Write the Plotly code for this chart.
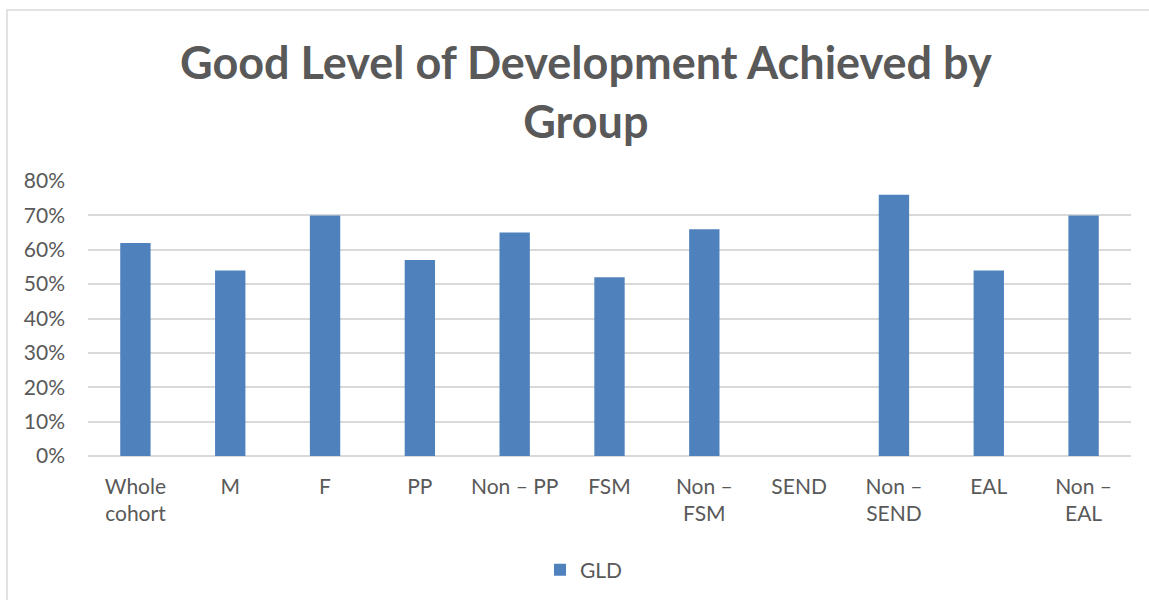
import plotly.graph_objects as go

categories = ["Whole<br>cohort", "M", "F", "PP", "Non – PP", "FSM", "Non –<br>FSM",
              "SEND", "Non –<br>SEND", "EAL", "Non –<br>EAL"]
gld_values = [0.62, 0.54, 0.70, 0.57, 0.65, 0.52, 0.66, 0.0, 0.76, 0.54, 0.70]
y_ticks = [0, 0.1, 0.2, 0.3, 0.4, 0.5, 0.6, 0.7, 0.8]
title_text = "<b>Good Level of Development Achieved by<br>Group</b>"

GREY = "#595959"
FONT = "Lato"

# plot area in pixels: left 88, right 1131, top 181 (80%), bottom 456 (0%)
PL, PR, PT, PB = 88, 1131, 181, 456
PW, PH = PR - PL, PB - PT

fig = go.Figure()
fig.add_trace(go.Bar(
    x=categories, y=gld_values, name="GLD",
    marker=dict(color="#4f81bd", line=dict(width=0)),
))

fig.update_layout(
    width=1149, height=600,
    paper_bgcolor="white", plot_bgcolor="white",
    margin=dict(l=PL, r=1149 - PR, t=PT, b=600 - PB, autoexpand=False),
    bargap=0.68,
    font=dict(family=FONT, color=GREY, size=21),
    showlegend=True,
    legend=dict(orientation="h", x=584 / 1149, xref="container", xanchor="center",
                y=1 - 570 / 600, yref="container", yanchor="middle",
                font=dict(family=FONT, size=21, color=GREY)),
    xaxis=dict(showgrid=False, showline=False, ticks="", tickfont=dict(size=21, color=GREY),
               tickangle=0, ticklabelstandoff=16),
    yaxis=dict(range=[0, 0.8], tickvals=y_ticks, tickformat=".0%", showgrid=True,
               gridcolor="#d9d9d9", gridwidth=1.5, zeroline=True, zerolinecolor="#d9d9d9",
               zerolinewidth=1.5, showline=False, ticks="", ticklabelstandoff=22,
               tickfont=dict(size=21, color=GREY)),
    annotations=[dict(text=title_text, xref="paper", yref="paper",
                      x=(585.5 - PL) / PW, y=(PB - 92) / PH, xanchor="center", yanchor="middle",
                      showarrow=False, font=dict(family=FONT, size=45, color=GREY))],
    shapes=[dict(type="rect", xref="paper", yref="paper",
                 x0=(7 - PL) / PW, x1=1.2, y0=-1.0, y1=(PB - 10) / PH,
                 line=dict(color="#d9d9d9", width=1.5), fillcolor="rgba(0,0,0,0)", layer="below")],
)

fig.write_html("out.html", config={"displayModeBar": False},
               post_script="document.body.style.margin='0';")
